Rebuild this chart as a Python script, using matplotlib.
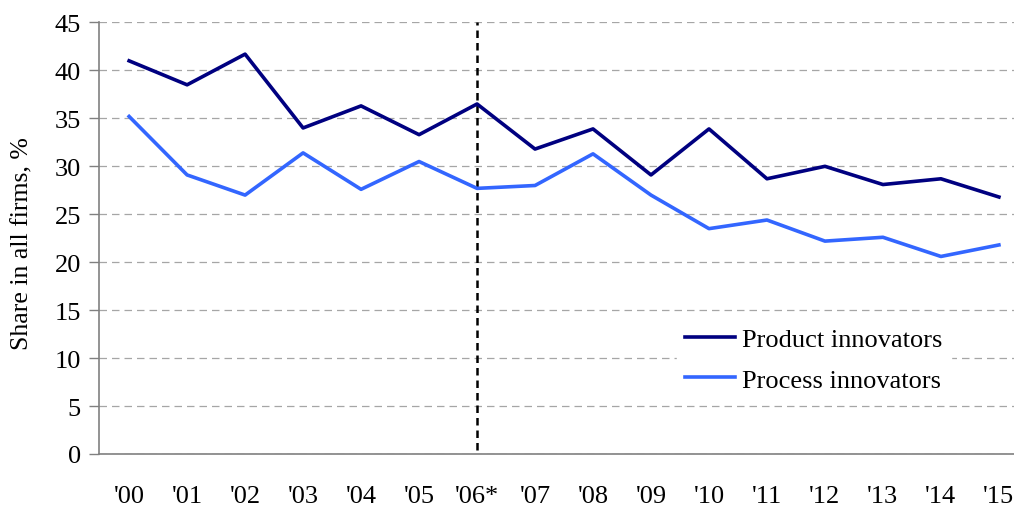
import numpy as np
import matplotlib
matplotlib.use("Agg")
import matplotlib.pyplot as plt

years = ["'00", "'01", "'02", "'03", "'04", "'05", "'06*", "'07",
         "'08", "'09", "'10", "'11", "'12", "'13", "'14", "'15"]
product = [41.0, 38.5, 41.7, 34.0, 36.3, 33.3, 36.5, 31.8,
           33.9, 29.1, 33.9, 28.7, 30.0, 28.1, 28.7, 26.8]
process = [35.2, 29.1, 27.0, 31.4, 27.6, 30.5, 27.7, 28.0,
           31.3, 27.0, 23.5, 24.4, 22.2, 22.6, 20.6, 21.8]
break_year = "'06*"

plt.rcParams["font.family"] = ["Liberation Serif", "DejaVu Serif"]

fig = plt.figure(figsize=(10.14, 5.06), dpi=100)
ax = fig.add_axes([0.0976, 0.1008, 0.9024, 0.8528])

x = np.arange(len(years))
ax.plot(x, product, color="#000080", lw=2.6, label="Product innovators", zorder=3)
ax.plot(x, process, color="#3366ff", lw=2.6, label="Process innovators", zorder=3)

# break in series
bx = years.index(break_year)
ax.axvline(bx, ymin=0.01, ymax=1.0, color="black", lw=1.8, ls=(0, (3, 2)), zorder=2)

ax.set_xlim(-0.52, 15.26)
ax.set_ylim(0, 45)
ax.set_yticks(range(0, 46, 5))
ax.set_xticks(x)
ax.set_xticklabels(years)
ax.yaxis.grid(True, color="#a6a6a6", ls=(0, (6, 4)), lw=0.9)
ax.set_axisbelow(True)

for s in ["top", "right"]:
    ax.spines[s].set_visible(False)
for s in ["left", "bottom"]:
    ax.spines[s].set_color("#808080")
    ax.spines[s].set_linewidth(1.2)

ax.tick_params(axis="y", length=7, width=1.0, color="#808080", labelsize=19, pad=6)
ax.tick_params(axis="x", length=0, labelsize=19, pad=22)

ax.set_ylabel("Share in all firms, %", fontsize=18.5)
ax.yaxis.set_label_coords(-0.072, 0.49)

leg = ax.legend(loc="upper left", bbox_to_anchor=(0.632, 0.3115), fontsize=19,
                frameon=True, facecolor="white", edgecolor="white", framealpha=1,
                handlelength=1.9, handletextpad=0.27, labelspacing=0.65,
                borderpad=0.3, borderaxespad=0, fancybox=False)

fig.savefig("out.png", dpi=100)
